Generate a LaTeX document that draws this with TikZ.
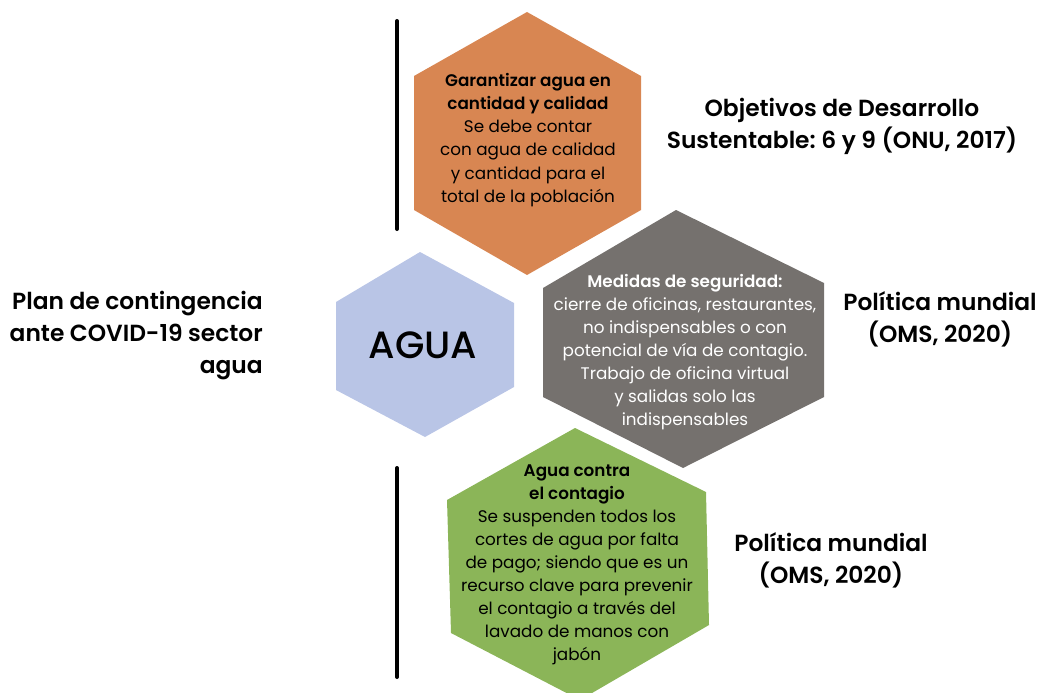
\documentclass[tikz,border=0pt]{standalone}
\usepackage{fontspec}
\setmainfont{Poppins}[BoldFont={Poppins SemiBold}]
\newfontfamily\medfont{Poppins Medium}
\frenchspacing
\definecolor{hexorange}{RGB}{216,134,82}
\definecolor{hexgray}{RGB}{117,113,110}
\definecolor{hexblue}{RGB}{185,197,230}
\definecolor{hexgreen}{RGB}{139,181,88}
\tikzstyle{hexbody}=[align=center,inner sep=0pt,font=\fontsize{12.6}{17.3}\selectfont]
\tikzstyle{sidetext}=[align=center,inner sep=0pt,font=\fontsize{17.5}{24}\selectfont\bfseries]
\tikzstyle{bar}=[line width=3pt,line cap=round]

\begin{document}
\begin{tikzpicture}[x=0.75pt, y=-0.75pt]
	\useasboundingbox (0,0) rectangle (1037,692);
	% hexagons
	\fill[hexorange] (527,12) -- (641,76) -- (641,210) -- (527,275) -- (414,210) -- (414,76) -- cycle;
	\fill[hexblue] (420,252) -- (514,303) -- (514,387) -- (425,437) -- (336,390) -- (336,302) -- cycle;
	\fill[hexgray] (676,210) -- (824,283) -- (824,397) -- (683,468) -- (543,397) -- (543,288) -- cycle;
	\fill[hexgreen] (575,428) -- (706,492) -- (709,625) -- (580,700) -- (451,633) -- (447,500) -- cycle;
	% bars
	\draw[bar] (397,21) -- (397,229)
		(397,468) -- (397,677);
	% text in the hexagons
	\node (agua) at (423,345) {\fontsize{28.5}{32}\selectfont\medfont AGUA};
	\node[hexbody] (garantizar) at (528,140) {\textbf{Garantizar agua en}\\\textbf{cantidad y calidad}\\Se debe contar\\con agua de calidad\\y cantidad para el\\total de la población};
	\node[hexbody,text=white] (medidas) at (685,352) {\textbf{Medidas de seguridad:}\\cierre de oficinas, restaurantes,\\no indispensables o con\\potencial de vía de contagio.\\Trabajo de oficina virtual\\y salidas solo las\\indispensables};
	\node[hexbody] (contagio) at (577,565) {\textbf{Agua contra}\\\textbf{el contagio}\\Se suspenden todos los\\cortes de agua por falta\\de pago; siendo que es un\\recurso clave para prevenir\\el contagio a través del\\lavado de manos con\\jabón};
	% side texts
	\node[sidetext] (ods) at (842,126) {Objetivos de Desarrollo\\Sustentable: 6 y 9 (ONU, 2017)};
	\node[sidetext,align=right,anchor=east] (plan) at (263,336) {Plan de contingencia\\ante COVID-19 sector\\agua};
	\node[sidetext] (oms1) at (940,319) {Política mundial\\(OMS, 2020)};
	\node[sidetext] (oms2) at (831,560) {Política mundial\\(OMS, 2020)};
\end{tikzpicture}
\end{document}
